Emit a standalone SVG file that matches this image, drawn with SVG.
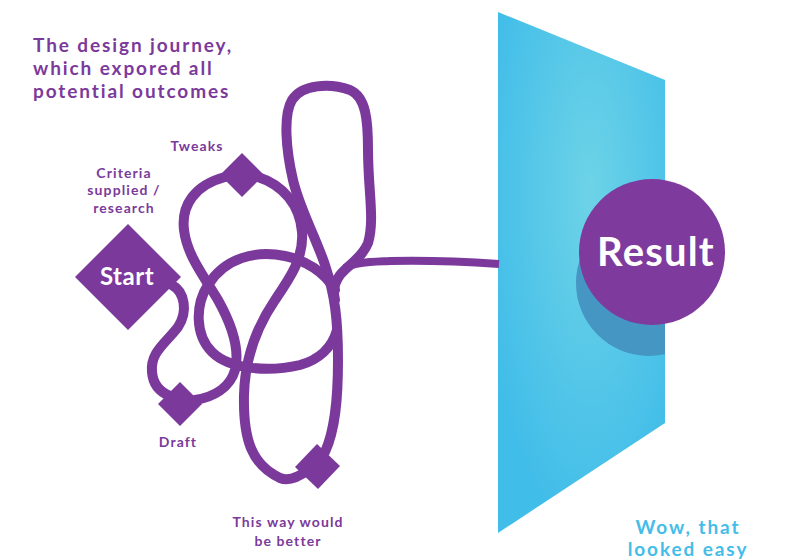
<svg xmlns="http://www.w3.org/2000/svg" width="800" height="560" viewBox="0 0 800 560">
<defs>
<radialGradient id="glow" cx="0.55" cy="0.35" r="0.65">
<stop offset="0" stop-color="#6dd3e7"/>
<stop offset="1" stop-color="#41bde9"/>
</radialGradient>
<clipPath id="panelClip"><polygon points="498,12 665,80 665,423 498,533"/></clipPath>
<style>
.strand{fill:none;stroke:#7b3a9b;stroke-width:10;stroke-linecap:round;stroke-linejoin:round}
.node{fill:#7b3a9b}
.lbl{font-family:Lato,"Liberation Sans",sans-serif;font-weight:700;fill:#7b3a9b;font-size:14px;letter-spacing:1.1px;text-anchor:middle}
.title{font-family:Lato,"Liberation Sans",sans-serif;font-weight:700;fill:#7b3a9b;font-size:19px;letter-spacing:1.9px}
.wow{font-family:Lato,"Liberation Sans",sans-serif;font-weight:700;fill:#44bde8;font-size:19px;letter-spacing:1.9px;text-anchor:middle}
.white{font-family:Lato,"Liberation Sans",sans-serif;font-weight:700;fill:#ffffff;text-anchor:middle}
</style>
</defs>
<rect width="800" height="560" fill="#ffffff"/>
<g id="title">
<text class="title" x="33" y="52">The design journey,</text>
<text class="title" x="33" y="75">which expored all</text>
<text class="title" x="33" y="98">potential outcomes</text>
</g>
<g id="panel">
<polygon points="498,12 665,80 665,423 498,533" fill="url(#glow)"/>
<circle cx="649" cy="283" r="73" fill="#4696c4" clip-path="url(#panelClip)"/>
</g>
<g id="connectors">
<path class="strand" d="M172,285 C185,292 188,312 178,327 C166,343 150,352 152,372 C153,385 160,392 170,396"/>
<path class="strand" d="M195,400 C213,397 230,388 235,370 C240,350 232,325 218,300 C203,275 187,255 184,230 C181,205 195,185 225,177"/>
<path class="strand" d="M258,177 C283,185 300,205 302,232 C304,258 290,278 275,300 C258,325 245,355 244,395 C243,440 252,465 280,478 C290,482 300,476 308,470"/>
<path class="strand" d="M325,452 C335,430 338,400 338,360 C338,320 335,295 325,265 C315,235 300,210 293,180 C286,150 283,115 292,100 C302,84 330,83 350,90 C366,97 368,120 368,150 C368,190 375,220 368,243 C362,258 348,265 340,275 C334,283 333,292 335,300"/>
<path class="strand" d="M335,290 C325,272 305,260 285,256 C255,250 225,258 208,285 C195,305 195,335 212,352 C230,370 270,372 300,365 C318,360 332,348 337,330"/>
<path class="strand" style="stroke-width:8;stroke-linecap:butt" d="M345,268 C355,262 370,262 390,261 C430,260 470,262 499,264"/>
</g>
<g id="start">
<polygon class="node" points="128,224 181,277 128,330 75,277"/>
<text class="white" x="127" y="285" font-size="24" letter-spacing="0.5">Start</text>
<text class="lbl" x="124" y="178">Criteria</text>
<text class="lbl" x="124" y="195">supplied /</text>
<text class="lbl" x="124" y="213">research</text>
</g>
<g id="tweaks">
<polygon class="node" points="242,153 264,175 242,197 220,175"/>
<text class="lbl" x="197" y="151">Tweaks</text>
</g>
<g id="draft">
<polygon class="node" points="180,382 202,404 180,426 158,404"/>
<text class="lbl" x="178" y="447">Draft</text>
</g>
<g id="better">
<polygon class="node" points="317,444 340,466 318,489 295,467"/>
<text class="lbl" x="288" y="527">This way would</text>
<text class="lbl" x="288" y="546">be better</text>
</g>
<g id="result">
<circle cx="652" cy="252" r="73" fill="#7e3a9d"/>
<text class="white" x="656" y="266" font-size="40" letter-spacing="1.2">Result</text>
</g>
<g id="wow">
<text class="wow" x="688" y="534">Wow, that</text>
<text class="wow" x="688" y="556">looked easy</text>
</g>
</svg>
